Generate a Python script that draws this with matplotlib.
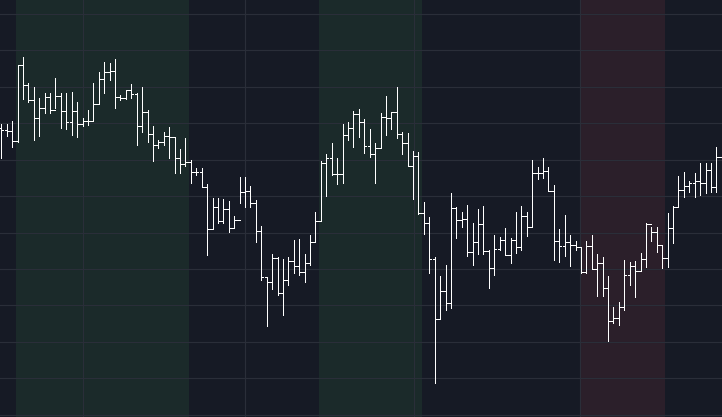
import matplotlib
import matplotlib.pyplot as plt
import numpy as np

matplotlib.use("Agg")  # no display

# OHLC values (one entry per bar)
highs = [179.8, 179.8, 180.6, 196.0, 198.2, 191.0, 189.9, 186.9, 188.3, 188.3,
         192.4, 188.3, 188.3, 188.6, 185.8, 181.4, 183.6, 191.0, 194.0, 196.8,
         196.5, 197.6, 187.7, 189.1, 190.8, 188.3, 189.9, 183.6, 179.2, 175.4,
         177.6, 179.0, 175.9, 172.9, 175.9, 169.9, 167.7, 167.7, 163.3, 159.5,
         159.5, 159.2, 158.7, 154.5, 165.2, 165.2, 162.8, 158.9, 151.8, 137.5,
         144.1, 143.3, 142.7, 143.3, 148.0, 148.2, 144.1, 149.3, 155.6, 169.6,
         171.5, 174.6, 170.5, 179.8, 180.3, 183.3, 183.9, 181.2, 178.4, 174.6,
         182.8, 187.5, 183.1, 189.9, 177.6, 177.3, 172.4, 172.1, 158.4, 154.3,
         143.3, 138.1, 141.1, 160.9, 157.0, 155.6, 157.6, 152.6, 156.5, 157.3,
         145.2, 149.3, 148.8, 151.2, 148.5, 155.6, 157.3, 155.6, 169.9, 168.0,
         170.5, 168.0, 163.0, 151.0, 154.8, 149.3, 147.7, 146.0, 147.7, 149.3,
         144.1, 143.3, 138.1, 129.6, 131.0, 142.5, 141.9, 142.2, 144.4, 152.6,
         151.5, 151.5, 146.6, 155.4, 157.3, 165.5, 166.6, 164.1, 166.3, 169.1,
         169.1, 169.1, 173.5, 175.9]
lows = [170.5, 176.5, 173.5, 174.8, 186.6, 185.8, 175.4, 176.5, 182.8, 182.8,
        184.2, 178.7, 178.4, 176.8, 176.2, 179.2, 179.5, 180.6, 185.5, 188.3,
        191.9, 184.2, 186.4, 186.6, 186.9, 174.0, 177.6, 174.8, 169.6, 173.2,
        174.0, 170.5, 166.3, 166.3, 168.3, 163.6, 165.8, 162.5, 143.8, 151.2,
        152.6, 152.6, 150.2, 151.5, 158.1, 157.0, 157.0, 147.4, 137.0, 124.4,
        134.5, 132.9, 127.4, 135.6, 138.9, 138.4, 136.4, 141.1, 147.4, 153.2,
        160.0, 165.8, 163.3, 163.6, 175.4, 173.5, 176.2, 171.8, 170.7, 163.6,
        173.2, 176.8, 178.4, 175.9, 171.5, 168.3, 159.2, 155.1, 149.6, 138.9,
        108.7, 126.3, 128.8, 129.3, 148.5, 151.5, 143.6, 141.1, 144.1, 144.1,
        134.8, 138.4, 145.2, 143.8, 141.6, 144.4, 145.2, 149.1, 151.5, 164.7,
        165.0, 161.4, 142.5, 141.9, 143.6, 140.8, 145.2, 138.9, 138.9, 140.0,
        132.6, 132.6, 120.2, 125.2, 124.6, 128.8, 135.6, 132.3, 139.7, 140.5,
        147.7, 144.7, 140.3, 140.5, 147.1, 157.0, 159.8, 161.1, 159.8, 160.3,
        160.9, 161.1, 161.1, 169.4]
closes = [178.1, 177.9, 175.1, 196.0, 190.5, 186.4, 181.4, 184.2, 187.2, 183.6,
          187.5, 183.3, 180.3, 183.3, 179.8, 180.6, 180.6, 185.3, 192.1, 194.0,
          194.3, 187.2, 186.9, 189.1, 188.0, 179.2, 183.1, 177.0, 174.0, 174.8,
          176.5, 176.2, 170.5, 168.8, 169.4, 166.6, 166.6, 162.5, 151.0, 157.0,
          153.2, 156.5, 151.2, 153.4, 161.1, 161.4, 158.1, 150.4, 137.8, 136.4,
          143.0, 133.4, 137.0, 142.2, 140.8, 139.2, 141.6, 147.4, 153.2, 169.1,
          170.5, 166.1, 166.1, 176.8, 178.7, 182.5, 180.3, 173.7, 171.5, 173.2,
          181.7, 181.4, 183.1, 177.0, 174.6, 168.3, 171.0, 155.4, 152.6, 142.7,
          126.3, 134.0, 130.7, 156.7, 153.4, 153.7, 144.7, 147.4, 152.3, 144.9,
          140.3, 145.5, 148.0, 143.8, 148.0, 146.0, 154.5, 151.5, 166.3, 166.3,
          166.9, 161.4, 147.7, 146.3, 147.4, 146.6, 146.0, 139.2, 146.3, 140.0,
          141.6, 134.8, 125.7, 126.6, 129.6, 138.4, 140.8, 139.4, 142.7, 152.3,
          150.2, 146.6, 143.0, 151.2, 157.0, 161.7, 162.8, 163.6, 164.1, 163.6,
          167.2, 162.5, 170.7, 172.6]
first_open = 178.7
opens = [first_open] + closes[:-1]  # each bar opens at the previous close

# highlighted stretches (bar index units) and their colours
green_spans = [(2.7, 34.65), (58.65, 77.65)]
red_spans = [(106.8, 122.5)]
x_grid = [15.0, 45.0, 76.1, 106.8]
y_grid = list(range(100, 220, 10))

bg = "#161a25"
grid_col = "#2a2e39"
bar_col = "#ffffff"

fig = plt.figure(figsize=(7.22, 4.17), dpi=100, facecolor=bg)
ax = fig.add_axes([0, 0, 1, 1])
ax.set_facecolor(bg)

for a, b in green_spans:
    ax.axvspan(a, b, color="#1b2a2a", lw=0, zorder=1)
for a, b in red_spans:
    ax.axvspan(a, b, color="#2b1f2a", lw=0, zorder=1)

x = np.arange(len(closes))
tick = 0.4
lw = 0.72  # 1px at 100 dpi
ax.vlines(x, lows, highs, color=bar_col, lw=lw, zorder=3, antialiased=False)
ax.hlines(opens, x - tick, x, color=bar_col, lw=lw, zorder=3, antialiased=False)
ax.hlines(closes, x, x + tick, color=bar_col, lw=lw, zorder=3, antialiased=False)

ax.set_xticks(x_grid)
ax.set_yticks(y_grid)
ax.set_axisbelow("line")
ax.grid(True, color=grid_col, lw=0.8)
ax.tick_params(length=0, labelleft=False, labelbottom=False)
for s in ax.spines.values():
    s.set_visible(False)

ax.set_xlim(-0.24, 133.04)
ax.set_ylim(99.4, 213.8)

fig.savefig("out.png", dpi=100, facecolor=bg)
